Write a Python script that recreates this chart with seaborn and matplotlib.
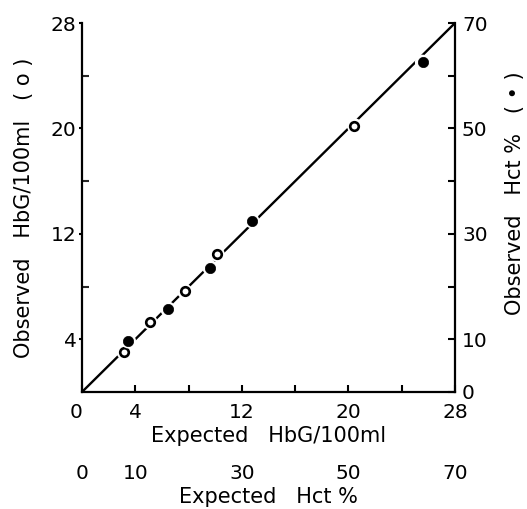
import matplotlib
matplotlib.use("Agg")
from matplotlib import pyplot as plt
import seaborn as sns

# values
hbg_expected = [3.15, 5.1, 7.7, 10.15, 20.45]     # open circles, HbG/100ml
hbg_observed = [3.05, 5.3, 7.65, 10.45, 20.2]
hct_expected = [8.7, 16.1, 24.0, 31.85, 63.9]     # filled circles, Hct %
hct_observed = [9.7, 15.75, 23.6, 32.5, 62.55]
identity_hbg = [0, 28]                            # line of identity

hbg_ticks = [0, 4, 12, 20, 28]
hbg_minor = [8, 16, 24]
hbg_yticks = [4, 12, 20, 28]
hct_ticks = [0, 10, 30, 50, 70]
hct_minor = [20, 40, 60]

sns.set_theme(style="ticks")
plt.rcParams['font.family'] = ['DejaVu Sans']
plt.rcParams['axes.linewidth'] = 1.6
plt.rcParams['text.color'] = "black"
plt.rcParams['axes.labelcolor'] = "black"
plt.rcParams['axes.edgecolor'] = "black"
tick_fs = 14.5
label_fs = 15

fig = plt.figure(figsize=(5.27, 5.09), dpi=100)
pos = [0.1556, 0.2299, 0.7078, 0.7249]
ax = fig.add_axes(pos)
ax2 = fig.add_axes(pos)
ax2.patch.set_visible(False)

# HbG axes (left / bottom)
sns.lineplot(x=identity_hbg, y=identity_hbg, ax=ax, color="black", linewidth=1.7, zorder=2)
sns.scatterplot(x=hbg_expected, y=hbg_observed, ax=ax, s=120, color="white", edgecolor="none", zorder=3)
sns.scatterplot(x=hbg_expected, y=hbg_observed, ax=ax, s=38, color="white", edgecolor="black",
                linewidth=1.9, zorder=4)
ax.set_xlim(0, 28)
ax.set_ylim(0, 28)
for s in ["top", "right"]:
    ax.spines[s].set_visible(False)
ax.set_xticks(hbg_ticks)
ax.set_xticklabels([str(t) for t in hbg_ticks], fontsize=tick_fs, color="black")
ax.set_xticks(hbg_minor, minor=True)
ax.get_xticklabels()[0].set_ha("right")
ax.set_yticks(hbg_yticks)
ax.set_yticklabels([str(t) for t in hbg_yticks], fontsize=tick_fs, color="black")
ax.set_yticks(hbg_minor, minor=True)
ax.tick_params(axis="x", which="both", direction="in", length=5, width=1.5, pad=8, colors="black")
ax.tick_params(axis="y", which="major", direction="out", length=2.5, width=1.5, pad=1.5, colors="black")
ax.tick_params(axis="y", which="minor", direction="in", length=5, width=1.5)
ax.set_xlabel("Expected   HbG/100ml", fontsize=label_fs, labelpad=3)
ax.set_ylabel("Observed   HbG/100ml   ( o )", fontsize=label_fs, labelpad=12)

# Hct axes (right / second bottom scale)
sns.scatterplot(x=hct_expected, y=hct_observed, ax=ax2, s=120, color="white", edgecolor="none", zorder=3)
sns.scatterplot(x=hct_expected, y=hct_observed, ax=ax2, s=55, color="black", edgecolor="black",
                linewidth=0.5, zorder=4)
ax2.set_xlim(0, 70)
ax2.set_ylim(0, 70)
for s in ["top", "left", "bottom"]:
    ax2.spines[s].set_visible(False)
ax2.spines["right"].set_linewidth(1.6)
ax2.yaxis.tick_right()
ax2.yaxis.set_label_position("right")
ax2.set_yticks(hct_ticks)
ax2.set_yticklabels([str(t) for t in hct_ticks], fontsize=tick_fs, color="black")
ax2.set_yticks(hct_minor, minor=True)
ax2.tick_params(axis="y", which="both", direction="in", length=5, width=1.5, pad=5, colors="black")
ax2.set_xticks(hct_ticks)
ax2.set_xticklabels([str(t) for t in hct_ticks], fontsize=tick_fs, color="black")
ax2.tick_params(axis="x", length=0, pad=52, colors="black")
ax2.set_xlabel("Expected   Hct %", fontsize=label_fs, labelpad=3)
ax2.set_ylabel("Observed   Hct %   ( \u2022 )", fontsize=label_fs, labelpad=11)
ax2.yaxis.set_label_coords(1.135, 0.54)

fig.savefig("out.png", dpi=100)
